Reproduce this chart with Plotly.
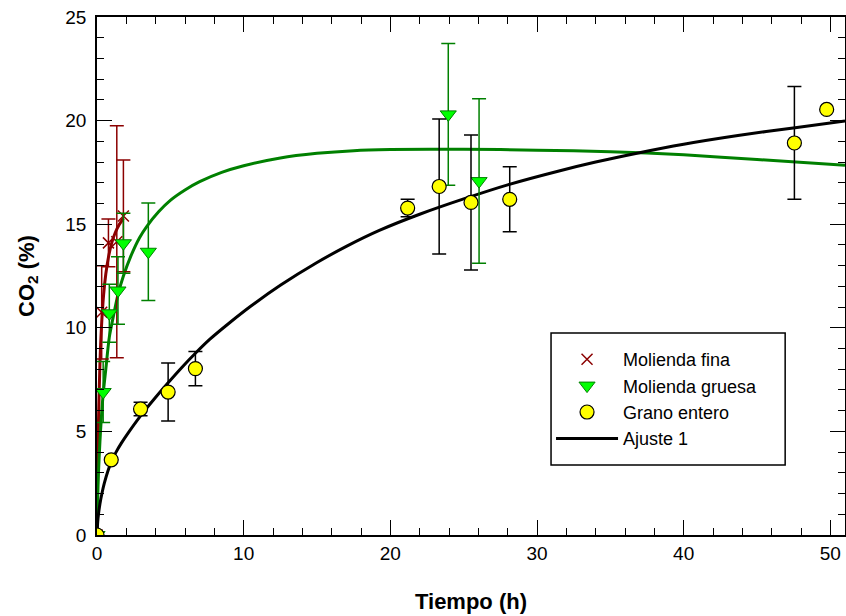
import plotly.graph_objects as go

# ---- measured data ----
fina_t = [0, 0.32, 0.78, 1.35, 1.8]
fina_co2 = [0, 10.75, 14.1, 14.15, 15.4]
fina_err = [0, 2.25, 1.15, 5.6, 2.7]

gruesa_t = [0, 0.42, 0.84, 1.43, 1.8, 3.5, 23.95, 26.05]
gruesa_co2 = [0, 6.9, 10.7, 11.8, 14.08, 13.67, 20.3, 17.08]
gruesa_err = [0, 1.47, 1.4, 1.63, 1.45, 2.35, 3.42, 3.97]

entero_t = [0, 0.97, 2.97, 4.85, 6.71, 21.18, 23.33, 25.5, 28.14, 47.55, 49.75]
entero_co2 = [0, 3.63, 6.08, 6.9, 8.03, 15.78, 16.82, 16.05, 16.2, 18.92, 20.54]
entero_err = [0, 0, 0.33, 1.4, 0.83, 0.42, 3.26, 3.26, 1.57, 2.72, 0]

# ---- fitted curves ----
fit_fina_t = [0, 0.02, 0.05, 0.1, 0.2, 0.3, 0.45, 0.6, 0.8, 1.0, 1.25, 1.5, 1.8]
fit_fina_y = [0, 1.46, 3.24, 5.44, 8.26, 9.98, 11.59, 12.6, 13.48, 14.09, 14.6, 14.96, 15.28]

fit_gruesa_t = [0, 0.05, 0.1, 0.2, 0.3, 0.42, 0.6, 0.84, 1.1, 1.43, 1.8, 2.3, 2.9, 3.4, 4.2,
                5, 6, 7, 8.5, 10, 12.5, 15, 17.5, 20, 25, 30, 35, 40, 45, 51]
fit_gruesa_y = [0, 1.8, 3.0, 4.5, 5.7, 6.8, 8.0, 9.55, 10.5, 11.6, 12.5, 13.45, 14.35, 14.9, 15.6,
                16.15, 16.65, 17.05, 17.5, 17.82, 18.2, 18.42, 18.55, 18.6, 18.62, 18.57, 18.5,
                18.35, 18.12, 17.85]

fit_entero_t = [0, 0.05, 0.1, 0.2, 0.35, 0.5, 0.75, 1.0, 1.3, 1.65, 2.2, 2.97, 4.0, 4.85, 5.8,
                6.71, 7.7, 9, 10.5, 12.5, 15, 17, 19.25, 22, 25, 28, 31.5, 34, 36.9, 40, 43.7,
                47.6, 51]
fit_entero_y = [0, 0.65, 1.0, 1.5, 2.05, 2.5, 3.1, 3.58, 4.0, 4.42, 5.0, 5.75, 6.65, 7.35, 8.1,
                8.77, 9.45, 10.22, 11.05, 12.05, 13.15, 13.93, 14.7, 15.48, 16.22, 16.9, 17.57,
                18.0, 18.44, 18.86, 19.28, 19.66, 19.98]

x_ticks = [0, 10, 20, 30, 40, 50]
y_ticks = [0, 5, 10, 15, 20, 25]

RED = "#8B0000"
GREEN_DARK = "#008000"
GREEN = "#00FF00"
FONT = "Liberation Sans, Arial, sans-serif"

fig = go.Figure()

# curves
fig.add_trace(go.Scatter(x=fit_fina_t, y=fit_fina_y, mode="lines",
                         line=dict(color=RED, width=3, shape="spline", smoothing=0.8),
                         showlegend=False, hoverinfo="skip"))
fig.add_trace(go.Scatter(x=fit_gruesa_t, y=fit_gruesa_y, mode="lines",
                         line=dict(color=GREEN_DARK, width=3, shape="spline", smoothing=0.8),
                         showlegend=False, hoverinfo="skip"))
fig.add_trace(go.Scatter(x=fit_entero_t, y=fit_entero_y, mode="lines", name="Ajuste 1",
                         line=dict(color="black", width=3, shape="spline", smoothing=0.8),
                         legendrank=4))

# points
fig.add_trace(go.Scatter(x=fina_t, y=fina_co2, mode="markers", name="Molienda fina",
                         marker=dict(symbol="x-thin", size=11, color=RED,
                                     line=dict(color=RED, width=1.5)),
                         error_y=dict(type="data", array=fina_err, color=RED,
                                      thickness=1.5, width=7),
                         legendrank=1))
fig.add_trace(go.Scatter(x=gruesa_t, y=gruesa_co2, mode="markers", name="Molienda gruesa",
                         marker=dict(symbol="triangle-down", size=14, color=GREEN,
                                     line=dict(color=GREEN_DARK, width=1)),
                         error_y=dict(type="data", array=gruesa_err, color=GREEN_DARK,
                                      thickness=1.5, width=7),
                         legendrank=2))
fig.add_trace(go.Scatter(x=entero_t, y=entero_co2, mode="markers", name="Grano entero",
                         marker=dict(symbol="circle", size=14, color="#FFFF00",
                                     line=dict(color="black", width=1.2)),
                         error_y=dict(type="data", array=entero_err, color="black",
                                      thickness=1.5, width=7),
                         legendrank=3))

axis_common = dict(
    showgrid=False, zeroline=False, automargin=False,
    showline=True, linecolor="black", linewidth=1.5, mirror="allticks",
    ticks="inside", ticklen=15, tickwidth=1.2, tickcolor="black",
    tickfont=dict(family=FONT, size=19, color="black"),
)

fig.update_xaxes(range=[0, 51], tickvals=x_ticks, ticktext=[str(v) for v in x_ticks],
                 minor=dict(dtick=2, ticks="inside", ticklen=7, tickcolor="black", tickwidth=1.2),
                 title=dict(text="<b>Tiempo (h)</b>", font=dict(family=FONT, size=22, color="black"),
                            standoff=31),
                 **axis_common)
fig.update_yaxes(range=[0, 25], tickvals=y_ticks, ticktext=[str(v) for v in y_ticks],
                 minor=dict(dtick=1, ticks="inside", ticklen=7, tickcolor="black", tickwidth=1.2),
                 ticklabelstandoff=5,
                 title=dict(text="<b>CO<sub>2</sub> (%)</b>", font=dict(family=FONT, size=22, color="black"),
                            standoff=25),
                 **axis_common)

# legend frame
fig.add_shape(type="rect", xref="paper", yref="paper",
              x0=0.607, x1=0.92, y0=0.135, y1=0.39,
              line=dict(color="black", width=1.5), fillcolor="white", layer="above")

fig.update_layout(
    width=846, height=616,
    margin=dict(l=97, r=1, t=17, b=81),
    plot_bgcolor="white", paper_bgcolor="white",
    font=dict(family=FONT, size=19, color="black"),
    legend=dict(x=0.607, y=0.3745, xanchor="left", yanchor="top",
                bgcolor="rgba(0,0,0,0)", borderwidth=0,
                font=dict(family=FONT, size=18, color="black"),
                itemwidth=62, tracegroupgap=0),
    showlegend=True,
)

fig.write_html("out.html", config={"displayModeBar": False},
               post_script="document.body.style.margin='0';")
